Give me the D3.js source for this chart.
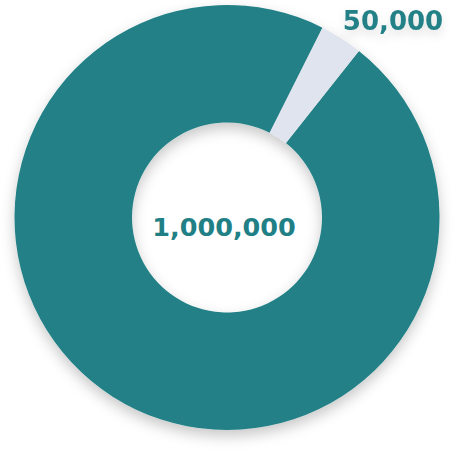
<!DOCTYPE html>
<html>
<head>
<meta charset="utf-8">
<script src="https://cdn.jsdelivr.net/npm/d3@7"></script>
<style>
  html, body { margin: 0; padding: 0; background: #fff; }
  svg { display: block; }
  text { font-family: "DejaVu Sans", sans-serif; font-weight: bold; }
</style>
</head>
<body>
<div id="chart"></div>
<script>
// Data
const categories = ["Total", "Part"];
const labels = ["1,000,000", "50,000"];
// slice shares (small slice spans ~11.6°)
const values = [1000000, 33500];
const colors = ["#218086", "#dfe4ee"];

const width = 458, height = 456;
const cx = 227, cy = 217.5;
const outerR = 212.5, innerR = 95;

const svg = d3.select("#chart").append("svg")
  .attr("width", width).attr("height", height);

const defs = svg.append("defs");
const f = defs.append("filter").attr("id", "shadow")
  .attr("x", "-20%").attr("y", "-20%").attr("width", "140%").attr("height", "140%");
f.append("feDropShadow").attr("dx", 0).attr("dy", 6).attr("stdDeviation", 7)
  .attr("flood-color", "#000").attr("flood-opacity", 0.22);
const f2 = defs.append("filter").attr("id", "tshadow")
  .attr("x", "-20%").attr("y", "-40%").attr("width", "140%").attr("height", "180%");
f2.append("feDropShadow").attr("dx", 0).attr("dy", 5).attr("stdDeviation", 5)
  .attr("flood-color", "#000").attr("flood-opacity", 0.12);

const startDeg = 26.7;
const smallSpan = 360 * values[1] / d3.sum(values);
const a0 = (startDeg + smallSpan) * Math.PI / 180;
const pie = d3.pie().sort(null).value(d => d.value)
  .startAngle(a0).endAngle(a0 + 2 * Math.PI);

const data = categories.map((c, i) => ({ cat: c, value: values[i], label: labels[i], color: colors[i] }));
const arcs = pie(data);
const arc = d3.arc().innerRadius(innerR).outerRadius(outerR);

const g = svg.append("g").attr("transform", `translate(${cx},${cy})`);
g.append("g").attr("filter", "url(#shadow)")
  .selectAll("path").data(arcs).join("path")
  .attr("d", arc)
  .attr("fill", d => d.data.color);

// center label
g.append("text")
  .attr("x", -3).attr("y", 9)
  .attr("text-anchor", "middle")
  .attr("dominant-baseline", "central")
  .attr("font-size", 25.5)
  .attr("fill", colors[0])
  .text(labels[0]);

// outer label for the small slice
svg.append("text")
  .attr("x", 393).attr("y", 29.5)
  .attr("text-anchor", "middle")
  .attr("font-size", 26)
  .attr("fill", colors[0])
  .attr("filter", "url(#tshadow)")
  .text(labels[1]);
</script>
</body>
</html>
